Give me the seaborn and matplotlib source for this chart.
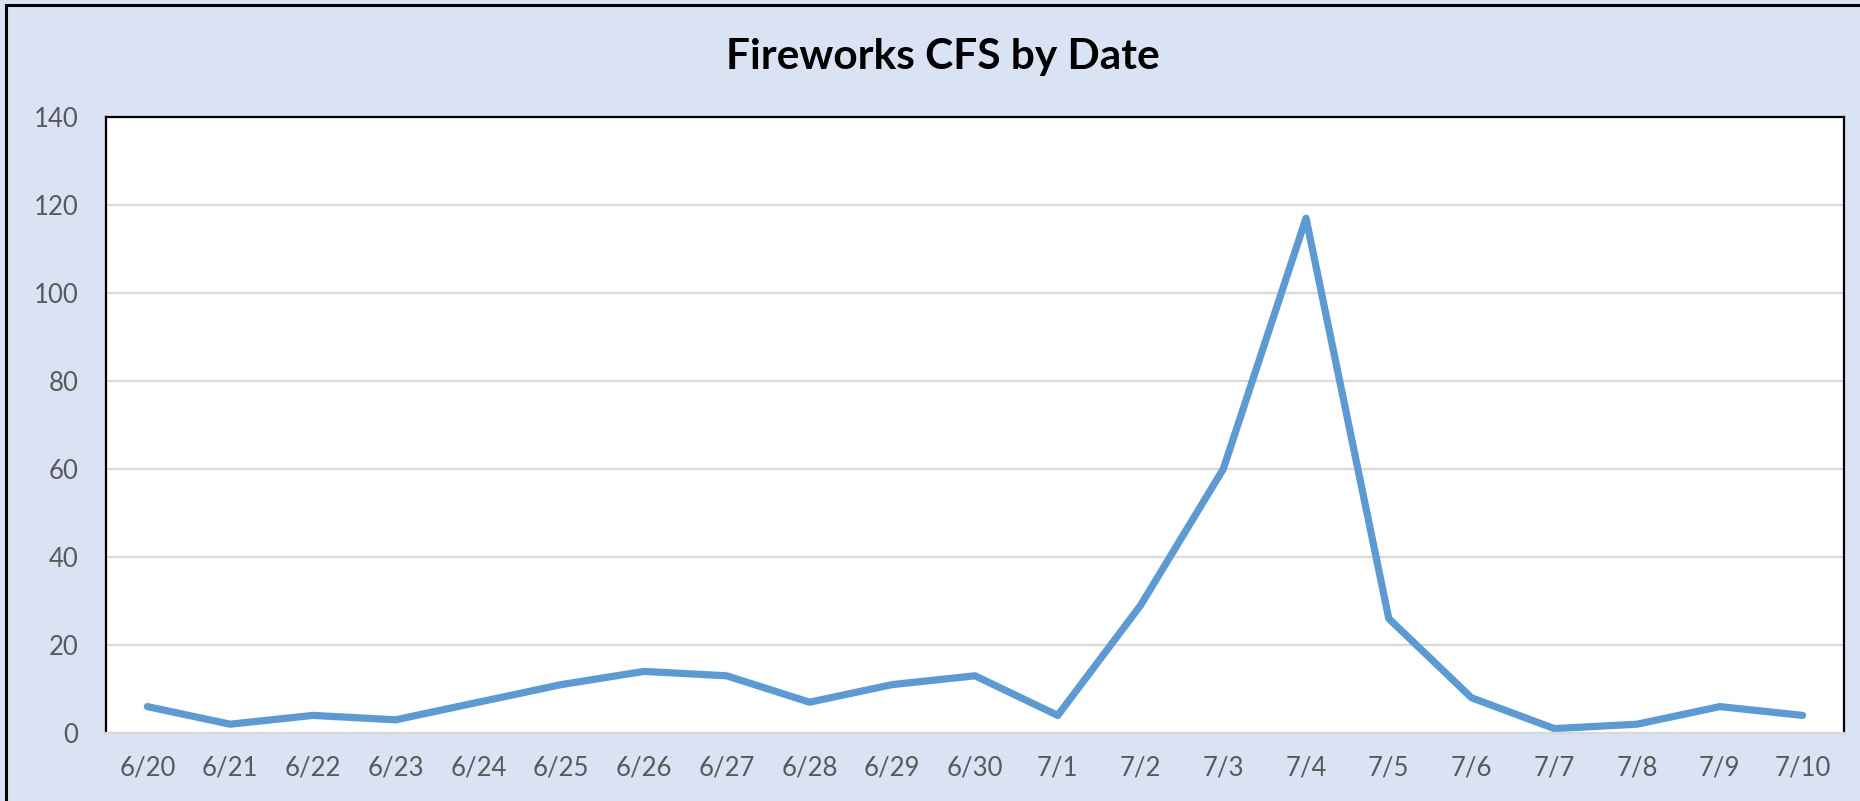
import matplotlib
matplotlib.use('Agg')

import matplotlib.pyplot as plt
from matplotlib.lines import Line2D
import seaborn as sns
import pandas as pd

dates = ['6/20', '6/21', '6/22', '6/23', '6/24', '6/25', '6/26', '6/27', '6/28', '6/29', '6/30',
         '7/1', '7/2', '7/3', '7/4', '7/5', '7/6', '7/7', '7/8', '7/9', '7/10']
cfs = [6, 2, 4, 3, 7, 11, 14, 13, 7, 11, 13, 4, 29, 60, 117, 26, 8, 1, 2, 6, 4]
y_ticks = [0, 20, 40, 60, 80, 100, 120, 140]

sns.set_style('white')
plt.rcParams['font.family'] = ['Lato', 'DejaVu Sans']

df = pd.DataFrame({'date': dates, 'cfs': cfs})

bg = '#DAE3F3'
fig = plt.figure(figsize=(18.6, 8.01), dpi=100, facecolor=bg)
ax = fig.add_axes([106 / 1860, 1 - 733 / 801, (1844 - 106) / 1860, (733 - 117) / 801])
ax.set_facecolor('white')

sns.lineplot(data=df, x='date', y='cfs', ax=ax, color='#5B9BD5', linewidth=5.2,
             solid_capstyle='round', solid_joinstyle='round', sort=False)

ax.set_xlim(-0.5, len(dates) - 0.5)
ax.set_ylim(0, 140)
ax.set_yticks(y_ticks)
ax.set_xticks(range(len(dates)))
ax.set_xticklabels(dates)
ax.yaxis.grid(True, color='#D9D9D9', linewidth=1.6)
ax.set_axisbelow(True)
ax.tick_params(axis='both', length=0, labelsize=18.5, labelcolor='#595959')
ax.tick_params(axis='y', pad=20)
ax.tick_params(axis='x', pad=16)
ax.set_xlabel('')
ax.set_ylabel('')

for side in ['top', 'left', 'right']:
    ax.spines[side].set_color('black')
    ax.spines[side].set_linewidth(1.6)
ax.spines['bottom'].set_color('#D9D9D9')
ax.spines['bottom'].set_linewidth(1.6)

fig.text(943 / 1860, 1 - 57 / 801, 'Fireworks CFS by Date', ha='center', va='center',
         fontsize=30.5, fontweight='bold', color='black')

# outer chart border (only left and top visible in the crop)
fig.add_artist(Line2D([6 / 1860, 6 / 1860], [0, 1 - 5 / 801], color='black', linewidth=2.2,
                      transform=fig.transFigure))
fig.add_artist(Line2D([6 / 1860, 1], [1 - 5 / 801, 1 - 5 / 801], color='black', linewidth=2.2,
                      transform=fig.transFigure))

fig.savefig('out.png', dpi=100, facecolor=bg)
plt.close(fig)
